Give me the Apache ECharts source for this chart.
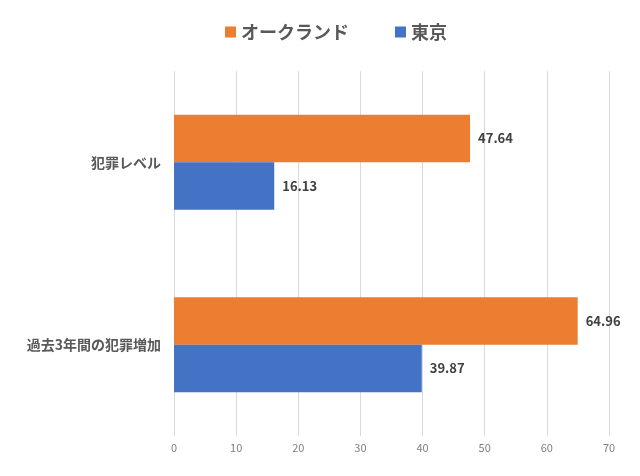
<!DOCTYPE html>
<html><head><meta charset="utf-8">
<script src="https://cdn.jsdelivr.net/npm/echarts@6/dist/echarts.min.js"></script>
<style>html,body{margin:0;padding:0;background:#fff}#c{width:640px;height:476px}</style>
</head><body><div id="c"></div>
<script>
const categories = ['犯罪レベル', '過去3年間の犯罪増加'];
const seriesNames = ['オークランド', '東京'];
const auckland = [47.64, 64.96];
const tokyo = [16.13, 39.87];
const colors = ['#ED7D31', '#4472C4'];
const font = '"Noto Sans CJK JP", "Noto Sans", sans-serif';

const chart = echarts.init(document.getElementById('c'), null, {renderer: 'canvas'});
const labelCfg = {show: true, position: 'right', distance: 8, color: '#404040', fontWeight: 'bold', fontSize: 13, fontFamily: font, formatter: p => p.value.toFixed(2)};
chart.setOption({
  animation: false,
  backgroundColor: '#fff',
  legend: {
    top: 18, left: 220, itemWidth: 11, itemHeight: 11, itemGap: 46,
    icon: 'rect',
    textStyle: {fontSize: 18, color: '#595959', fontWeight: 'bold', fontFamily: font},
    data: seriesNames
  },
  grid: {left: 174, right: 31, top: 71, bottom: 40, containLabel: false},
  xAxis: {
    type: 'value', min: 0, max: 70, interval: 10,
    axisLine: {show: false}, axisTick: {show: false},
    splitLine: {lineStyle: {color: '#D9D9D9', width: 1}},
    axisLabel: {color: '#808080', fontSize: 11, fontFamily: font, margin: 6}
  },
  yAxis: {
    type: 'category', data: categories, inverse: true,
    axisLine: {show: false}, axisTick: {show: false},
    axisLabel: {color: '#595959', fontSize: 14, fontWeight: 'bold', fontFamily: font, margin: 13}
  },
  series: [
    {name: seriesNames[0], type: 'bar', data: auckland, itemStyle: {color: colors[0]}, barCategoryGap: '48%', barGap: '0%', label: labelCfg},
    {name: seriesNames[1], type: 'bar', data: tokyo, itemStyle: {color: colors[1]}, barCategoryGap: '48%', barGap: '0%', label: labelCfg}
  ]
});
</script></body></html>
